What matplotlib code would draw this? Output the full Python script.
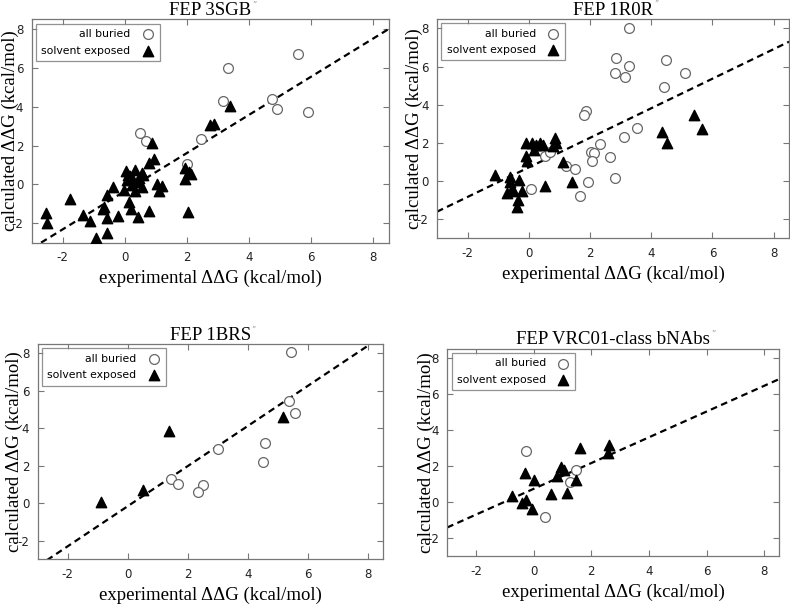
import matplotlib
matplotlib.use("Agg")
import matplotlib.pyplot as plt
import numpy as np

titles = ["FEP 3SGB", "FEP 1R0R", "FEP 1BRS", "FEP VRC01-class bNAbs"]

# panel 1: 3SGB
p1_buried_x = [0.49, 0.67, 2.47, 3.15, 3.33, 4.73, 4.89, 5.59, 5.91, 2.02]
p1_buried_y = [2.63, 2.25, 2.34, 4.31, 6.01, 4.42, 3.90, 6.71, 3.73, 1.04]
p1_exposed_x = [0.88, 0.95, 0.79, 0.03, 0.33, 0.55, 0.60, 0.06, 0.17, 0.27, 0.47, 0.22,
                -0.02, 0.33, 0.56, -0.37, -0.58, 1.03, 1.19, 1.11, 0.14, 0.20, -0.66,
                -0.70, -0.58, -0.21, 0.43, 0.78, -1.12, -1.33, -1.76, -2.54, -2.51,
                -0.93, -0.56, 1.94, 2.08, 1.94, 2.15, 2.04, 2.74, 2.88, 3.39, 0.10, 0.38]
p1_exposed_y = [2.15, 1.33, 1.09, 0.68, 0.75, 0.58, 0.50, 0.25, 0.42, 0.22, 0.35, -0.03,
                -0.30, -0.32, -0.14, -0.15, -0.54, 0.00, -0.09, -0.33, -0.88, -1.28, -1.17,
                -1.27, -1.73, -1.62, -1.66, -1.35, -1.86, -1.57, -0.75, -1.48, -2.00,
                -2.77, -2.51, 0.83, 0.66, 0.27, 0.54, -1.40, 3.08, 3.10, 4.03, 0.50, 0.15]

# panel 2: 1R0R
p2_buried_x = [3.26, 2.86, 2.83, 3.27, 3.13, 4.47, 5.09, 4.41, 1.88, 1.79, 3.53, 3.10,
               2.32, 2.02, 2.13, 2.07, 2.64, 1.23, 1.52, 1.93, 2.83, 1.66, 0.07, 0.52, 0.68]
p2_buried_y = [8.03, 6.43, 5.64, 6.04, 5.43, 6.34, 5.68, 4.91, 3.67, 3.46, 2.78, 2.33,
               1.94, 1.55, 1.49, 1.06, 1.25, 0.81, 0.64, -0.03, 0.18, -0.78, -0.43, 1.32, 1.54]
p2_exposed_x = [-0.08, 0.09, 0.23, 0.36, 0.47, 0.16, 0.85, 0.88, 0.78, -0.10, -0.07, 1.12,
                -1.11, -0.62, -0.62, -0.32, 0.52, 1.42, -0.71, -0.53, -0.21, -0.35, -0.40,
                -0.57, 5.40, 5.65, 4.36, 4.52]
p2_exposed_y = [1.98, 1.98, 1.89, 1.98, 1.89, 1.63, 2.24, 1.98, 1.85, 1.31, 1.07, 1.02,
                0.32, 0.20, -0.03, 0.06, -0.26, -0.03, -0.61, -0.47, -0.50, -0.99, -1.34,
                -0.50, 3.46, 2.73, 2.59, 1.98]

# panel 3: 1BRS
p3_buried_x = [5.43, 5.39, 5.58, 4.56, 4.52, 3.00, 1.44, 1.66, 2.52, 2.33]
p3_buried_y = [8.09, 5.45, 4.80, 3.23, 2.20, 2.89, 1.27, 1.00, 0.97, 0.58]
p3_exposed_x = [1.38, 5.19, 0.52, -0.89]
p3_exposed_y = [3.87, 4.59, 0.70, 0.08]

# panel 4: VRC01-class bNAbs
p4_buried_x = [-0.27, 1.46, 1.26, 0.39]
p4_buried_y = [2.85, 1.78, 1.14, -0.82]
p4_exposed_x = [1.61, 2.62, 2.58, 0.94, 1.05, 0.80, 1.46, 1.17, 0.60, -0.30, 0.01, -0.76,
                -0.27, -0.42, -0.07]
p4_exposed_y = [3.00, 3.18, 2.74, 1.97, 1.79, 1.47, 1.23, 0.53, 0.45, 1.60, 1.23, 0.34,
                0.12, -0.06, -0.38]

# fitted dashed lines (slope, intercept)
fit_slope = [0.982, 0.774, 1.07, 0.713]
fit_intercept = [-0.35, 0.72, -0.16, 0.74]

xticks = [-2, 0, 2, 4, 6, 8]
yticks = [-2, 0, 2, 4, 6, 8]

buried_x = [p1_buried_x, p2_buried_x, p3_buried_x, p4_buried_x]
buried_y = [p1_buried_y, p2_buried_y, p3_buried_y, p4_buried_y]
exposed_x = [p1_exposed_x, p2_exposed_x, p3_exposed_x, p4_exposed_x]
exposed_y = [p1_exposed_y, p2_exposed_y, p3_exposed_y, p4_exposed_y]

W, H = 790, 606
# (left, top, width, height) in pixels
boxes = [(31.6, 19.3, 357, 223.4),
         (437.0, 18.8, 352, 219.6),
         (37.7, 344.0, 345, 215.4),
         (447.2, 348.6, 331.5, 207.8)]
positions = [[l / W, 1 - (t + h) / H, w / W, h / H] for (l, t, w, h) in boxes]
ylabel_x = [-0.035, -0.04, -0.043, -0.037]

serif = ["Liberation Serif", "DejaVu Serif"]
frame_col = "#777777"

fig = plt.figure(figsize=(7.9, 6.06), dpi=100)
axes = []
for i in range(4):
    ax = fig.add_axes(positions[i])
    axes.append(ax)
    ax.set_xlim(-3, 8.5)
    ax.set_ylim(-3, 8.5)
    xs = np.array([-3.0, 8.5])
    ax.plot(xs, fit_slope[i] * xs + fit_intercept[i], color="black", lw=1.6,
            dashes=(3, 2), zorder=2)
    ax.scatter(buried_x[i], buried_y[i], s=50, marker="o", facecolors="white",
               edgecolors="#666666", linewidths=0.9, label="all buried", zorder=3)
    ax.scatter(exposed_x[i], exposed_y[i], s=56, marker="^", color="black",
               label="solvent exposed", zorder=4)
    ax.set_xticks(xticks)
    ax.set_yticks(yticks)
    ax.set_xticklabels([str(t) for t in xticks])
    ax.set_yticklabels([str(t) for t in yticks])
    ax.tick_params(direction="in", top=True, right=True, length=4, width=0.8,
                   color=frame_col, labelsize=8.5, pad=6, labelcolor="#222222")
    for sp in ax.spines.values():
        sp.set_color(frame_col)
        sp.set_linewidth(0.9)
    ax.set_title(titles[i], fontfamily=serif, fontsize=13.5, pad=3)
    ax.set_xlabel("experimental ΔΔG (kcal/mol)", fontfamily=serif, fontsize=13.5,
                  labelpad=4)
    ax.set_ylabel("calculated ΔΔG (kcal/mol)", fontfamily=serif, fontsize=13.5)
    ax.yaxis.set_label_coords(ylabel_x[i], 0.5)
    leg = ax.legend(loc="upper left", markerfirst=False, fontsize=7.8, frameon=True,
                    fancybox=False, edgecolor=frame_col, borderpad=0.5,
                    handletextpad=1.0, labelspacing=0.6, borderaxespad=0.4,
                    handlelength=1.2, alignment="right")
    leg.get_frame().set_linewidth(0.9)
    for t in leg.get_texts():
        t.set_ha("right")

fig.canvas.draw()
renderer = fig.canvas.get_renderer()
for ax in axes:
    bb = ax.title.get_window_extent(renderer)
    inv = fig.transFigure.inverted()
    x1, y1 = inv.transform((bb.x1 + 1, bb.y0 + bb.height * 0.55))
    fig.text(x1, y1, "\u201d", fontsize=6, color="#999999", ha="left", va="bottom")

fig.savefig("out.png", dpi=100)
